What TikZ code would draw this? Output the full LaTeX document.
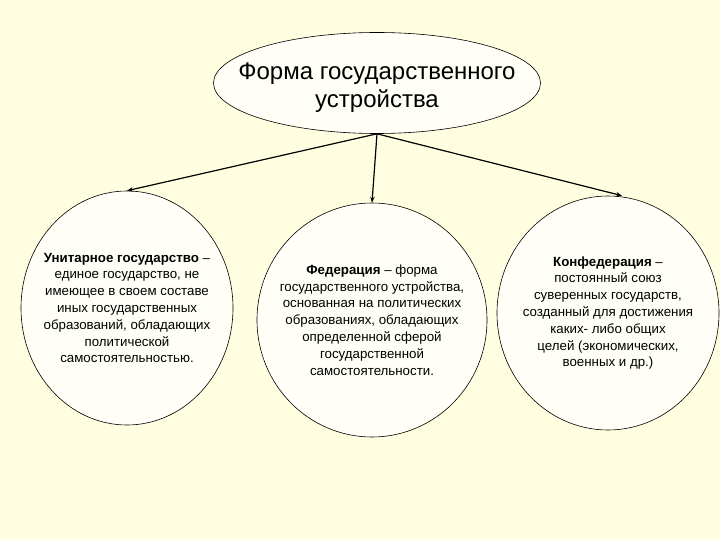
\documentclass[tikz,border=0pt]{standalone}
\usepackage{fontspec}
\setmainfont{Liberation Sans}
\usepackage{xcolor}
\definecolor{Paper}{HTML}{FFFEE0}
\definecolor{Blank}{HTML}{FFFFF8}
\usetikzlibrary{arrows.meta,shapes.geometric}
\tikzset{
  head/.style={ellipse,draw=black,fill=Blank,line width=0.6pt,
    minimum width=327pt,minimum height=101pt,inner xsep=-35pt,inner ysep=0pt,
    align=center,font=\fontsize{24}{28}\selectfont},
  kind/.style={ellipse,draw=black,fill=Blank,line width=0.6pt,
    minimum height=234pt,inner xsep=-28pt,inner ysep=0pt,align=center,
    font=\fontsize{13.3}{16.8}\selectfont},
  link/.style={-{Stealth[length=6pt,width=4.5pt]},line width=1.2pt,draw=black}
}

\begin{document}
\begin{tikzpicture}[x=1pt,y=-1pt]
  \fill[Paper] (0,0) rectangle (720,540);
  \useasboundingbox (0,0) rectangle (720,540);
  \node[head] (form) at (377,83) {\rule{0pt}{26pt}Форма государственного\\устройства};
  \node[kind, minimum width=212pt] (unitary) at (127,308)
    {\textbf{Унитарное государство} –\\единое государство, не\\имеющее в своем составе\\иных государственных\\образований, обладающих\\политической\\самостоятельностью.};
  \node[kind, minimum width=230pt] (federation) at (372,320)
    {\textbf{Федерация} – форма\\государственного устройства,\\основанная на политических\\образованиях, обладающих\\определенной сферой\\государственной\\самостоятельности.};
  \node[kind, minimum width=222pt] (confed) at (608,313)
    {\textbf{Конфедерация} –\\постоянный союз\\суверенных государств,\\созданный для достижения\\каких- либо общих\\целей (экономических,\\военных и др.)};
  \draw[link] (form.south) -- (unitary.north);
  \draw[link] (form.south) -- (federation.north);
  \draw[link] (form.south) -- ([xshift=14pt]confed.north);
\end{tikzpicture}
\end{document}
